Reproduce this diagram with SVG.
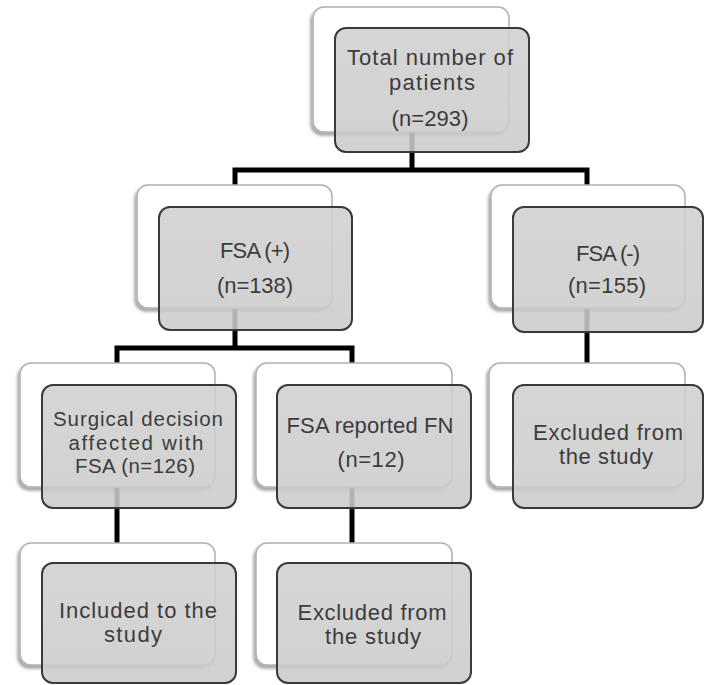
<svg xmlns="http://www.w3.org/2000/svg" width="709" height="685" viewBox="0 0 709 685">
<defs>
<filter id="sh" x="-10%" y="-10%" width="120%" height="125%">
<feDropShadow dx="-2" dy="3" stdDeviation="1.5" flood-color="#000" flood-opacity="0.35"/>
</filter>
<linearGradient id="gf" x1="0" y1="0" x2="0" y2="1">
<stop offset="0" stop-color="#d0d0d0"/>
<stop offset="1" stop-color="#cbcbcb"/>
</linearGradient>
</defs>
<style>
.back{fill:#ffffff;stroke:#b0b0b0;stroke-width:1.5;filter:url(#sh)}
.front{fill:url(#gf);fill-opacity:0.88;stroke:#3a3a3a;stroke-width:2}
.t{font-family:"Liberation Sans",Arial,sans-serif;font-size:22px;fill:#3c3c3c;text-anchor:middle}
.s{font-size:20.5px}
.c{fill:none;stroke:#000;stroke-width:5;stroke-linejoin:miter}
</style>
<rect width="709" height="685" fill="#ffffff"/>
<g id="connectors">
<path class="c" d="M412,132 V170"/>
<path class="c" d="M235,185 V170 H587 V185"/>
<path class="c" d="M235,308 V348"/>
<path class="c" d="M117,363 V348 H352 V363"/>
<path class="c" d="M587,308 V363"/>
<path class="c" d="M117,487 V543"/>
<path class="c" d="M352,487 V543"/>
</g>
<g id="total">
<rect class="back" x="313" y="7" width="196" height="125" rx="11"/>
<rect class="front" x="335" y="28" width="194" height="124" rx="11"/>
<text class="t" x="430" y="65" textLength="166" lengthAdjust="spacing">Total number of</text>
<text class="t" x="432" y="90" textLength="86" lengthAdjust="spacing">patients</text>
<text class="t" x="430" y="126" textLength="77" lengthAdjust="spacing">(n=293)</text>
</g>
<g id="fsa_pos">
<rect class="back" x="137" y="185" width="195" height="123" rx="11"/>
<rect class="front" x="159" y="207" width="193" height="123" rx="11"/>
<text class="t" x="255" y="258" textLength="70" lengthAdjust="spacing">FSA (+)</text>
<text class="t" x="255" y="293" textLength="76" lengthAdjust="spacing">(n=138)</text>
</g>
<g id="fsa_neg">
<rect class="back" x="491" y="185" width="194" height="123" rx="11"/>
<rect class="front" x="513" y="207" width="190" height="125" rx="11"/>
<text class="t" x="608" y="261" textLength="64" lengthAdjust="spacing">FSA (-)</text>
<text class="t" x="607" y="293" textLength="78" lengthAdjust="spacing">(n=155)</text>
</g>
<g id="surgical">
<rect class="back" x="20" y="363" width="195" height="124" rx="11"/>
<rect class="front" x="42" y="385" width="194" height="123" rx="11"/>
<text class="t s" x="138" y="426" textLength="170" lengthAdjust="spacing">Surgical decision</text>
<text class="t s" x="136" y="450" textLength="135" lengthAdjust="spacing">affected with</text>
<text class="t s" x="135" y="473" textLength="120" lengthAdjust="spacing">FSA (n=126)</text>
</g>
<g id="fsa_fn">
<rect class="back" x="256" y="363" width="196" height="124" rx="11"/>
<rect class="front" x="277" y="385" width="194" height="123" rx="11"/>
<text class="t" x="370" y="433" textLength="167" lengthAdjust="spacing">FSA reported FN</text>
<text class="t" x="371" y="467" textLength="67" lengthAdjust="spacing">(n=12)</text>
</g>
<g id="excluded_neg">
<rect class="back" x="489" y="363" width="196" height="124" rx="11"/>
<rect class="front" x="513" y="385" width="190" height="123" rx="11"/>
<text class="t" x="608" y="440" textLength="150" lengthAdjust="spacing">Excluded from</text>
<text class="t" x="606" y="464" textLength="94" lengthAdjust="spacing">the study</text>
</g>
<g id="included">
<rect class="back" x="20" y="543" width="195" height="122" rx="11"/>
<rect class="front" x="42" y="563" width="194" height="120" rx="11"/>
<text class="t" x="138" y="618" textLength="158" lengthAdjust="spacing">Included to the</text>
<text class="t" x="133" y="642" textLength="58" lengthAdjust="spacing">study</text>
</g>
<g id="excluded_fn">
<rect class="back" x="256" y="543" width="196" height="122" rx="11"/>
<rect class="front" x="277" y="563" width="194" height="120" rx="11"/>
<text class="t" x="372" y="620" textLength="149" lengthAdjust="spacing">Excluded from</text>
<text class="t" x="373" y="644" textLength="96" lengthAdjust="spacing">the study</text>
</g>
</svg>
